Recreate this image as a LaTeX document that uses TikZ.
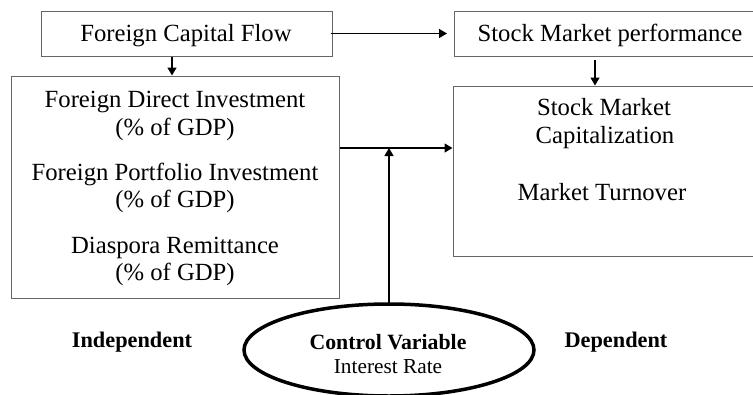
\documentclass[tikz,border=0pt]{standalone}
\usepackage{fontspec}
\setmainfont{Liberation Serif}
\usetikzlibrary{arrows.meta}
\begin{document}
\begin{tikzpicture}[x=1pt,y=-1pt,
  boxline/.style={draw=black!60,line width=1pt},
  txt/.style={inner sep=0pt,anchor=base,font=\fontsize{24.7}{28}\selectfont},
  bold/.style={inner sep=0pt,anchor=base,font=\fontsize{22.3}{26}\selectfont\bfseries},
  conn/.style={line width=1.4pt,-{Triangle[length=8pt,width=9pt]}}]
\useasboundingbox (0,0) rectangle (753,394);
\clip (0,0) rectangle (753,394);
% boxes
\node[boxline,minimum width=291pt,minimum height=45pt,inner sep=0pt] (fcf) at (186.5,33.5) {};
\node[boxline,minimum width=328pt,minimum height=222pt,inner sep=0pt] (ind) at (175,187) {};
\node[boxline,minimum width=320pt,minimum height=45pt,inner sep=0pt] (smp) at (614,33.5) {};
\node[boxline,minimum width=320pt,minimum height=170pt,inner sep=0pt] (dep) at (613,171) {};
% texts
\node[txt] (t1) at (186,41) {Foreign Capital Flow};
\node[txt] (t2) at (610,41) {Stock Market performance};
\node[txt] (l1) at (175,107) {Foreign Direct Investment};
\node[txt] (l2) at (175,135) {(\% of GDP)};
\node[txt] (l3) at (175,180) {Foreign Portfolio Investment};
\node[txt] (l4) at (175,207) {(\% of GDP)};
\node[txt] (l5) at (175,253) {Diaspora Remittance};
\node[txt] (l6) at (175,280) {(\% of GDP)};
\node[txt] (r1) at (604,115) {Stock Market};
\node[txt] (r2) at (605,143) {Capitalization};
\node[txt] (r3) at (602,200) {Market Turnover};
% ellipse
\draw[line width=3.5pt] (389,350) ellipse [x radius=145pt,y radius=46pt];
\coordinate (etop) at (389,303);
\node[bold,font=\fontsize{21.8}{26}\selectfont\bfseries] (cv) at (388,349) {Control Variable};
\node[txt,font=\fontsize{21.3}{26}\selectfont] (ir) at (388,373) {Interest Rate};
\node[bold] (indl) at (132,347) {Independent};
\node[bold] (depl) at (616,347) {Dependent};
% connectors
\coordinate (j) at (389,148);
\draw[conn] (fcf.east) ++(-2,0) -- (447,33.5) coordinate (smpin);
\draw[conn] (fcf.south -| 172,0) -- (ind.north -| 172,0);
\draw[conn] (595,60) -- (dep.north -| 595,0);
\draw[conn] (ind.east |- j) -- (dep.west |- j);
\draw[conn] (etop) -- (j);
\end{tikzpicture}
\end{document}
